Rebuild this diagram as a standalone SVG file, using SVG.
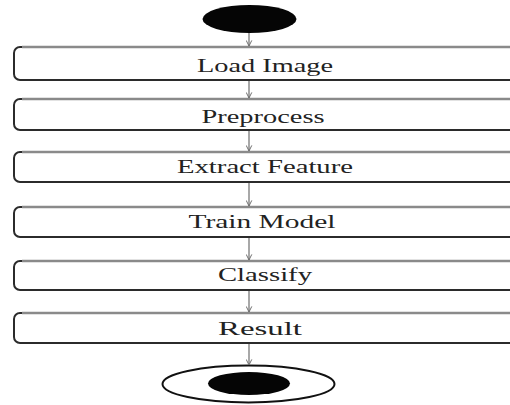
<svg xmlns="http://www.w3.org/2000/svg" width="510" height="405" viewBox="0 0 510 405">
  <defs>
    <style>
      .step rect { fill: #ffffff; stroke: #2b2b2b; stroke-width: 2; }
      .step .top { stroke: #8a8a8a; stroke-width: 2.5; }
      .step text { font-family: "Liberation Serif", "Times New Roman", serif; font-size: 18px; fill: #222; text-anchor: middle; }
      .flow line { stroke: #6e6e6e; stroke-width: 1.2; }
    </style>
    <marker id="open-arrow" viewBox="0 0 10 10" refX="9" refY="5" markerWidth="7" markerHeight="7" orient="auto" markerUnits="userSpaceOnUse">
      <path d="M1,1 L9,5 L1,9" fill="none" stroke="#6e6e6e" stroke-width="1.4"/>
    </marker>
  </defs>
  <rect width="510" height="405" fill="#ffffff"/>

  <g id="start">
    <ellipse cx="249.5" cy="19" rx="47" ry="14" fill="#050505"/>
  </g>

  <g id="load-image" class="step">
    <rect x="14" y="47" width="510" height="33" rx="6"/>
    <line class="top" x1="22" y1="47" x2="510" y2="47"/>
    <text x="265" y="72" textLength="136" lengthAdjust="spacingAndGlyphs">Load Image</text>
  </g>
  <g id="preprocess" class="step">
    <rect x="14" y="99" width="510" height="31" rx="6"/>
    <line class="top" x1="22" y1="99" x2="510" y2="99"/>
    <text x="263" y="123" textLength="123" lengthAdjust="spacingAndGlyphs">Preprocess</text>
  </g>
  <g id="extract-feature" class="step">
    <rect x="14" y="152" width="510" height="30" rx="6"/>
    <line class="top" x1="22" y1="152" x2="510" y2="152"/>
    <text x="265" y="173" textLength="176" lengthAdjust="spacingAndGlyphs">Extract Feature</text>
  </g>
  <g id="train-model" class="step">
    <rect x="14" y="207" width="510" height="30" rx="6"/>
    <line class="top" x1="22" y1="207" x2="510" y2="207"/>
    <text x="262" y="228" textLength="147" lengthAdjust="spacingAndGlyphs">Train Model</text>
  </g>
  <g id="classify" class="step">
    <rect x="14" y="261" width="510" height="29" rx="6"/>
    <line class="top" x1="22" y1="261" x2="510" y2="261"/>
    <text x="265" y="281" textLength="94" lengthAdjust="spacingAndGlyphs">Classify</text>
  </g>
  <g id="result" class="step">
    <rect x="14" y="313" width="510" height="30" rx="6"/>
    <line class="top" x1="22" y1="313" x2="510" y2="313"/>
    <text x="260" y="335" textLength="84" lengthAdjust="spacingAndGlyphs">Result</text>
  </g>

  <g id="end">
    <ellipse cx="248.5" cy="384" rx="86" ry="18.5" fill="#ffffff" stroke="#111" stroke-width="2"/>
    <ellipse cx="249" cy="383.5" rx="41" ry="11.5" fill="#050505"/>
  </g>

  <g id="connectors" class="flow">
    <line x1="249" y1="33" x2="249" y2="46" marker-end="url(#open-arrow)"/>
    <line x1="249" y1="81" x2="249" y2="98" marker-end="url(#open-arrow)"/>
    <line x1="249" y1="131" x2="249" y2="151" marker-end="url(#open-arrow)"/>
    <line x1="249" y1="183" x2="249" y2="206" marker-end="url(#open-arrow)"/>
    <line x1="249" y1="238" x2="249" y2="260" marker-end="url(#open-arrow)"/>
    <line x1="249" y1="291" x2="249" y2="312" marker-end="url(#open-arrow)"/>
    <line x1="249" y1="344" x2="249" y2="365" marker-end="url(#open-arrow)"/>
  </g>
</svg>
